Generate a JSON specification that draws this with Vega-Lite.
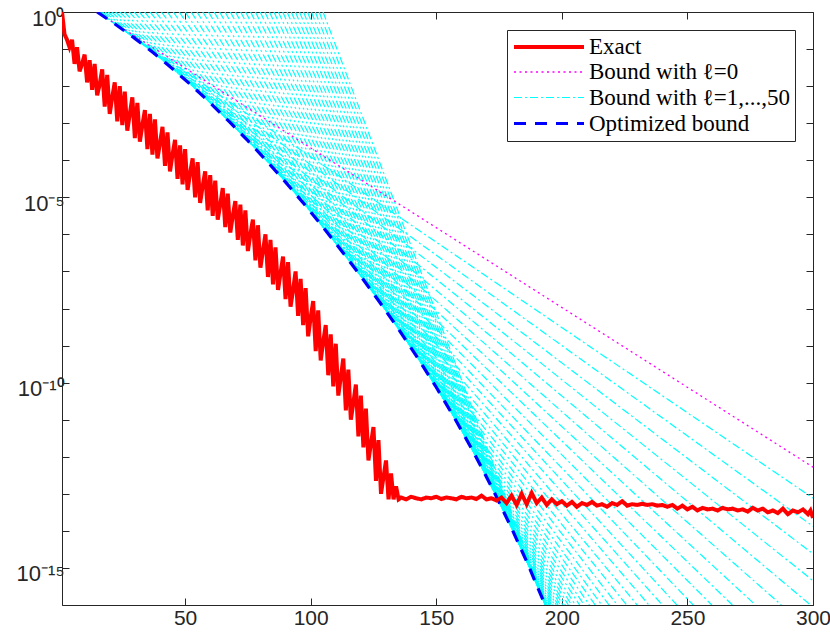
{
  "$schema": "https://vega.github.io/schema/vega-lite/v6.json",
  "width": 751,
  "height": 593,
  "autosize": {"type": "none"},
  "padding": {"left": 62, "top": 12, "right": 17, "bottom": 34},
  "background": "white",
  "config": {
    "view": {"stroke": "#262626", "strokeWidth": 1},
    "axis": {"grid": false, "domain": false, "tickColor": "#262626", "tickSize": -7, "tickWidth": 1, "labelColor": "#262626", "labelFont": "Liberation Sans", "labelFontSize": 21, "title": null, "labelFlush": false, "labelOverlap": false, "labelBound": false},
    "legend": {"orient": "top-right", "offset": 18, "padding": 5, "strokeColor": "#262626", "fillColor": "white", "labelFont": "Liberation Serif", "labelFontSize": 23, "labelColor": "black", "symbolSize": 400, "symbolType": "M-1,0H6", "rowPadding": 1.5, "labelOffset": 53, "labelLimit": 400, "title": null}
  },
  "datasets": {
    "bounds": [
      {"l":1,"x":15.10,"y":1},{"l":1,"x":300,"y":7.67e-14},
      {"l":2,"x":15.50,"y":1},{"l":2,"x":300,"y":1.33e-14},
      {"l":3,"x":16.17,"y":1},{"l":3,"x":300,"y":2.41e-15},
      {"l":4,"x":17.06,"y":1},{"l":4,"x":300,"y":4.52e-16},
      {"l":5,"x":18.16,"y":1},{"l":5,"x":299.0,"y":1e-16},
      {"l":6,"x":19.42,"y":1},{"l":6,"x":287.4,"y":1e-16},
      {"l":7,"x":20.84,"y":1},{"l":7,"x":277.1,"y":1e-16},
      {"l":8,"x":22.37,"y":1},{"l":8,"x":267.9,"y":1e-16},
      {"l":9,"x":24.04,"y":1},{"l":9,"x":259.7,"y":1e-16},
      {"l":10,"x":25.84,"y":1},{"l":10,"x":252.3,"y":1e-16},
      {"l":11,"x":27.76,"y":1},{"l":11,"x":245.8,"y":1e-16},
      {"l":12,"x":29.75,"y":1},{"l":12,"x":240.0,"y":1e-16},
      {"l":13,"x":31.79,"y":1},{"l":13,"x":234.7,"y":1e-16},
      {"l":14,"x":33.90,"y":1},{"l":14,"x":230.0,"y":1e-16},
      {"l":15,"x":36.06,"y":1},{"l":15,"x":225.8,"y":1e-16},
      {"l":16,"x":38.28,"y":1},{"l":16,"x":222.1,"y":1e-16},
      {"l":17,"x":40.58,"y":1},{"l":17,"x":218.8,"y":1e-16},
      {"l":18,"x":42.93,"y":1},{"l":18,"x":215.9,"y":1e-16},
      {"l":19,"x":45.29,"y":1},{"l":19,"x":213.3,"y":1e-16},
      {"l":20,"x":47.67,"y":1},{"l":20,"x":211.0,"y":1e-16},
      {"l":21,"x":50.05,"y":1},{"l":21,"x":208.9,"y":1e-16},
      {"l":22,"x":52.41,"y":1},{"l":22,"x":207.1,"y":1e-16},
      {"l":23,"x":54.73,"y":1},{"l":23,"x":205.4,"y":1e-16},
      {"l":24,"x":57.05,"y":1},{"l":24,"x":203.9,"y":1e-16},
      {"l":25,"x":59.33,"y":1},{"l":25,"x":202.6,"y":1e-16},
      {"l":26,"x":61.56,"y":1},{"l":26,"x":201.4,"y":1e-16},
      {"l":27,"x":63.75,"y":1},{"l":27,"x":200.4,"y":1e-16},
      {"l":28,"x":65.90,"y":1},{"l":28,"x":199.4,"y":1e-16},
      {"l":29,"x":68.01,"y":1},{"l":29,"x":198.5,"y":1e-16},
      {"l":30,"x":70.08,"y":1},{"l":30,"x":197.8,"y":1e-16},
      {"l":31,"x":72.12,"y":1},{"l":31,"x":197.1,"y":1e-16},
      {"l":32,"x":74.12,"y":1},{"l":32,"x":196.5,"y":1e-16},
      {"l":33,"x":76.08,"y":1},{"l":33,"x":195.9,"y":1e-16},
      {"l":34,"x":78.01,"y":1},{"l":34,"x":195.4,"y":1e-16},
      {"l":35,"x":79.90,"y":1},{"l":35,"x":195.0,"y":1e-16},
      {"l":36,"x":81.75,"y":1},{"l":36,"x":194.65,"y":1e-16},
      {"l":37,"x":83.59,"y":1},{"l":37,"x":194.35,"y":1e-16},
      {"l":38,"x":85.39,"y":1},{"l":38,"x":194.1,"y":1e-16},
      {"l":39,"x":87.15,"y":1},{"l":39,"x":193.9,"y":1e-16},
      {"l":40,"x":88.89,"y":1},{"l":40,"x":193.7,"y":1e-16},
      {"l":41,"x":90.60,"y":1},{"l":41,"x":193.57,"y":1e-16},
      {"l":42,"x":92.27,"y":1},{"l":42,"x":193.46,"y":1e-16},
      {"l":43,"x":93.93,"y":1},{"l":43,"x":193.39,"y":1e-16},
      {"l":44,"x":95.56,"y":1},{"l":44,"x":193.36,"y":1e-16},
      {"l":45,"x":97.15,"y":1},{"l":45,"x":193.35,"y":1e-16},
      {"l":46,"x":98.74,"y":1},{"l":46,"x":193.38,"y":1e-16},
      {"l":47,"x":100.31,"y":1},{"l":47,"x":193.44,"y":1e-16},
      {"l":48,"x":101.87,"y":1},{"l":48,"x":193.54,"y":1e-16},
      {"l":49,"x":103.40,"y":1},{"l":49,"x":193.66,"y":1e-16},
      {"l":50,"x":104.93,"y":1},{"l":50,"x":193.82,"y":1e-16}
    ],
    "bound0": [{"x":14.9,"y":1},{"x":300,"y":5.25e-13}],
    "opt": [
      {"x":15,"y":1},{"x":22.5,"y":0.454},{"x":30,"y":0.194},{"x":37.5,"y":0.078},{"x":45,"y":0.0295},{"x":52.5,"y":0.01052},{"x":60,"y":3.53e-3},{"x":67.5,"y":1.119e-3},{"x":75,"y":3.37e-4},{"x":82.5,"y":9.59e-5},{"x":90,"y":2.57e-5},{"x":97.5,"y":6.49e-6},{"x":105,"y":1.54e-6},{"x":112.5,"y":3.46e-7},{"x":120,"y":7.37e-8},{"x":127.5,"y":1.479e-8},{"x":135,"y":2.77e-9},{"x":142.5,"y":4.78e-10},{"x":150,"y":7.5e-11},{"x":157.5,"y":1.047e-11},{"x":165,"y":1.27e-12},{"x":172.5,"y":1.331e-13},{"x":180,"y":1.18e-14},{"x":186.5,"y":1.25e-15},{"x":193,"y":1.14e-16},{"x":193.35,"y":1e-16}
    ],
    "exact": [
      {"x":1,"y":1},{"x":2,"y":0.251},{"x":3,"y":0.178},{"x":4,"y":0.112},{"x":5,"y":0.178},{"x":6,"y":0.0398},{"x":7,"y":0.112},{"x":8,"y":0.0251},{"x":9,"y":0.0398},{"x":10,"y":0.0708},
      {"x":11,"y":0.0126},{"x":12,"y":0.0501},{"x":13,"y":0.00794},{"x":14,"y":0.0398},{"x":15,"y":0.00562},{"x":16,"y":0.0112},{"x":17,"y":0.0282},{"x":18,"y":0.00282},{"x":19,"y":0.02},{"x":20,"y":0.00178},
      {"x":21,"y":0.00501},{"x":22,"y":0.0126},{"x":23,"y":0.00112},{"x":24,"y":0.01},{"x":25,"y":8.91e-4},{"x":26,"y":0.00708},{"x":27,"y":6.31e-4},{"x":28,"y":0.00178},{"x":29,"y":0.00501},{"x":30,"y":3.98e-4},
      {"x":31,"y":3.55e-3},{"x":32,"y":3.16e-4},{"x":33,"y":8.91e-4},{"x":34,"y":2.24e-3},{"x":35,"y":2.0e-4},{"x":36,"y":1.78e-3},{"x":37,"y":1.41e-4},{"x":38,"y":1.26e-3},{"x":39,"y":1.12e-4},{"x":40,"y":2.82e-4},
      {"x":41,"y":7.94e-4},{"x":42,"y":7.08e-5},{"x":43,"y":5.62e-4},{"x":44,"y":5.01e-5},{"x":45,"y":1.41e-4},{"x":46,"y":3.55e-4},{"x":47,"y":3.16e-5},{"x":48,"y":2.51e-4},{"x":49,"y":2.24e-5},{"x":50,"y":2.0e-4},
      {"x":51,"y":1.58e-5},{"x":52,"y":4.47e-5},{"x":53,"y":1.12e-4},{"x":54,"y":1e-5},{"x":55,"y":8.91e-5},{"x":56,"y":7.08e-6},{"x":57,"y":2.0e-5},{"x":58,"y":5.01e-5},{"x":59,"y":4.47e-6},{"x":60,"y":3.98e-5},
      {"x":61,"y":3.16e-6},{"x":62,"y":2.82e-5},{"x":63,"y":2.51e-6},{"x":64,"y":6.31e-6},{"x":65,"y":1.78e-5},{"x":66,"y":1.58e-6},{"x":67,"y":1.26e-5},{"x":68,"y":1.12e-6},{"x":69,"y":3.16e-6},{"x":70,"y":7.94e-6},
      {"x":71,"y":7.08e-7},{"x":72,"y":6.31e-6},{"x":73,"y":5.01e-7},{"x":74,"y":4.47e-6},{"x":75,"y":3.55e-7},{"x":76,"y":1e-6},{"x":77,"y":2.51e-6},{"x":78,"y":2.0e-7},{"x":79,"y":1.78e-6},{"x":80,"y":1.26e-7},
      {"x":81,"y":3.55e-7},{"x":82,"y":1e-6},{"x":83,"y":7.08e-8},{"x":84,"y":7.08e-7},{"x":85,"y":4.47e-8},{"x":86,"y":4.47e-7},{"x":87,"y":3.16e-8},{"x":88,"y":8.91e-8},{"x":89,"y":2.51e-7},{"x":90,"y":1.78e-8},
      {"x":91,"y":1.78e-7},{"x":92,"y":1.12e-8},{"x":93,"y":3.16e-8},{"x":94,"y":1e-7},{"x":95,"y":6.31e-9},{"x":96,"y":6.31e-8},{"x":97,"y":3.55e-9},{"x":98,"y":3.55e-8},{"x":99,"y":1.78e-9},{"x":100,"y":5.62e-9},
      {"x":101,"y":1.58e-8},{"x":102,"y":7.08e-10},{"x":103,"y":8.91e-9},{"x":104,"y":3.98e-10},{"x":105,"y":1.26e-9},{"x":106,"y":3.55e-9},{"x":107,"y":1.58e-10},{"x":108,"y":2.0e-9},{"x":109,"y":7.94e-11},{"x":110,"y":1.12e-9},
      {"x":111,"y":4.47e-11},{"x":112,"y":1.41e-10},{"x":113,"y":4.47e-10},{"x":114,"y":1.78e-11},{"x":115,"y":2.24e-10},{"x":116,"y":1e-11},{"x":117,"y":2.82e-11},{"x":118,"y":8.91e-11},{"x":119,"y":3.55e-12},{"x":120,"y":4.47e-11},
      {"x":121,"y":1.78e-12},{"x":122,"y":2.0e-11},{"x":123,"y":7.94e-13},{"x":124,"y":2.24e-12},{"x":125,"y":6.31e-12},{"x":126,"y":2.24e-13},{"x":127,"y":2.82e-12},{"x":128,"y":1e-13},{"x":129,"y":2.82e-13},{"x":130,"y":7.94e-13},
      {"x":131,"y":7.08e-14},{"x":132,"y":3.55e-13},{"x":133,"y":7.08e-14},{"x":134,"y":1.58e-13},{"x":135,"y":7.08e-14},
      {"x":136,"y":7.94e-14},{"x":138,"y":7.08e-14},{"x":140,"y":8.32e-14},{"x":142,"y":7.59e-14},{"x":144,"y":7.08e-14},{"x":146,"y":7.94e-14},{"x":148,"y":7.59e-14},{"x":150,"y":8.32e-14},{"x":152,"y":7.24e-14},{"x":154,"y":7.94e-14},
      {"x":156,"y":7.59e-14},{"x":158,"y":7.08e-14},{"x":160,"y":8.32e-14},{"x":162,"y":7.59e-14},{"x":164,"y":7.94e-14},{"x":166,"y":7.24e-14},{"x":168,"y":8.91e-14},{"x":170,"y":7.08e-14},{"x":172,"y":7.59e-14},{"x":174,"y":6.61e-14},
      {"x":176,"y":7.94e-14},{"x":178,"y":5.62e-14},{"x":180,"y":8.91e-14},{"x":182,"y":5.01e-14},{"x":184,"y":1.0e-13},{"x":186,"y":5.25e-14},{"x":188,"y":1.05e-13},{"x":190,"y":5.62e-14},{"x":192,"y":7.94e-14},{"x":194,"y":5.01e-14},
      {"x":196,"y":7.08e-14},{"x":198,"y":5.25e-14},{"x":200,"y":6.31e-14},{"x":202,"y":4.79e-14},{"x":204,"y":6.03e-14},{"x":206,"y":4.47e-14},{"x":208,"y":5.62e-14},{"x":210,"y":5.01e-14},{"x":212,"y":6.03e-14},{"x":214,"y":4.79e-14},
      {"x":216,"y":5.25e-14},{"x":218,"y":4.47e-14},{"x":220,"y":5.62e-14},{"x":222,"y":5.01e-14},{"x":224,"y":6.31e-14},{"x":226,"y":4.79e-14},{"x":228,"y":5.25e-14},{"x":230,"y":5.01e-14},{"x":232,"y":5.37e-14},{"x":234,"y":5.01e-14},
      {"x":236,"y":5.25e-14},{"x":238,"y":4.79e-14},{"x":240,"y":5.01e-14},{"x":242,"y":4.47e-14},{"x":244,"y":5.01e-14},{"x":246,"y":3.98e-14},{"x":248,"y":4.79e-14},{"x":250,"y":3.8e-14},{"x":252,"y":4.47e-14},{"x":254,"y":3.55e-14},
      {"x":256,"y":4.17e-14},{"x":258,"y":3.8e-14},{"x":260,"y":3.98e-14},{"x":262,"y":3.55e-14},{"x":264,"y":4.17e-14},{"x":266,"y":3.8e-14},{"x":268,"y":3.98e-14},{"x":270,"y":3.55e-14},{"x":272,"y":3.8e-14},{"x":274,"y":3.31e-14},
      {"x":276,"y":4.17e-14},{"x":278,"y":3.55e-14},{"x":280,"y":3.98e-14},{"x":282,"y":3.16e-14},{"x":284,"y":3.55e-14},{"x":286,"y":3.02e-14},{"x":288,"y":3.98e-14},{"x":290,"y":2.82e-14},{"x":292,"y":3.55e-14},{"x":294,"y":3.16e-14},
      {"x":296,"y":3.8e-14},{"x":298,"y":2.82e-14},{"x":299,"y":3.55e-14},{"x":300,"y":2.24e-14}
    ]
  },
  "layer": [
    {
      "data": {"name": "bounds"},
      "mark": {"type": "line", "clip": true},
      "encoding": {
        "x": {"field": "x", "type": "quantitative", "scale": {"domain": [1, 300], "nice": false, "zero": false}, "axis": {"orient": "bottom", "values": [50, 100, 150, 200, 250, 300], "labelPadding": 9}},
        "y": {"field": "y", "type": "quantitative", "scale": {"type": "log", "domain": [1e-16, 1], "nice": false}, "axis": {"orient": "left", "values": [1, 1e-1, 1e-2, 1e-3, 1e-4, 1e-5, 1e-6, 1e-7, 1e-8, 1e-9, 1e-10, 1e-11, 1e-12, 1e-13, 1e-14, 1e-15, 1e-16], "labelPadding": 5, "labelOffset": 6, "labelFontSize": 22, "labelExpr": "abs(log(datum.value)/LN10) < 0.01 ? '10⁰' : (abs(log(datum.value)/LN10 + 5) < 0.01 ? '10⁻⁵' : (abs(log(datum.value)/LN10 + 10) < 0.01 ? '10⁻¹⁰' : (abs(log(datum.value)/LN10 + 15) < 0.01 ? '10⁻¹⁵' : '')))"}},
        "detail": {"field": "l", "type": "nominal"},
        "color": {"datum": "Bound with ℓ=1,...,50", "type": "nominal", "scale": {"type": "ordinal", "domain": ["Exact", "Bound with ℓ=0", "Bound with ℓ=1,...,50", "Optimized bound"], "range": ["#ff0000", "#ff00ff", "#00ffff", "#0000ff"]}},
        "strokeDash": {"datum": "Bound with ℓ=1,...,50", "type": "nominal", "scale": {"type": "ordinal", "domain": ["Exact", "Bound with ℓ=0", "Bound with ℓ=1,...,50", "Optimized bound"], "range": [[1, 0], [2, 3.5], [8, 3, 2, 3], [12, 9]]}},
        "strokeWidth": {"datum": "Bound with ℓ=1,...,50", "type": "nominal", "scale": {"type": "ordinal", "domain": ["Exact", "Bound with ℓ=0", "Bound with ℓ=1,...,50", "Optimized bound"], "range": [4, 1.3, 1.2, 3.2]}}
      }
    },
    {
      "data": {"name": "bound0"},
      "mark": {"type": "line", "clip": true},
      "encoding": {
        "x": {"field": "x", "type": "quantitative", "scale": {"domain": [1, 300], "nice": false, "zero": false}, "axis": {"orient": "top", "values": [50, 100, 150, 200, 250, 300], "labels": false}},
        "y": {"field": "y", "type": "quantitative", "scale": {"type": "log", "domain": [1e-16, 1], "nice": false}, "axis": {"orient": "right", "values": [1, 1e-1, 1e-2, 1e-3, 1e-4, 1e-5, 1e-6, 1e-7, 1e-8, 1e-9, 1e-10, 1e-11, 1e-12, 1e-13, 1e-14, 1e-15, 1e-16], "labels": false}},
        "color": {"datum": "Bound with ℓ=0", "type": "nominal", "scale": {"type": "ordinal", "domain": ["Exact", "Bound with ℓ=0", "Bound with ℓ=1,...,50", "Optimized bound"], "range": ["#ff0000", "#ff00ff", "#00ffff", "#0000ff"]}},
        "strokeDash": {"datum": "Bound with ℓ=0", "type": "nominal", "scale": {"type": "ordinal", "domain": ["Exact", "Bound with ℓ=0", "Bound with ℓ=1,...,50", "Optimized bound"], "range": [[1, 0], [2, 3.5], [8, 3, 2, 3], [12, 9]]}},
        "strokeWidth": {"datum": "Bound with ℓ=0", "type": "nominal", "scale": {"type": "ordinal", "domain": ["Exact", "Bound with ℓ=0", "Bound with ℓ=1,...,50", "Optimized bound"], "range": [4, 1.3, 1.2, 3.2]}}
      }
    },
    {
      "data": {"name": "opt"},
      "mark": {"type": "line", "clip": true},
      "encoding": {
        "x": {"field": "x", "type": "quantitative", "scale": {"domain": [1, 300], "nice": false, "zero": false}, "axis": null},
        "y": {"field": "y", "type": "quantitative", "scale": {"type": "log", "domain": [1e-16, 1], "nice": false}, "axis": null},
        "color": {"datum": "Optimized bound", "type": "nominal", "scale": {"type": "ordinal", "domain": ["Exact", "Bound with ℓ=0", "Bound with ℓ=1,...,50", "Optimized bound"], "range": ["#ff0000", "#ff00ff", "#00ffff", "#0000ff"]}},
        "strokeDash": {"datum": "Optimized bound", "type": "nominal", "scale": {"type": "ordinal", "domain": ["Exact", "Bound with ℓ=0", "Bound with ℓ=1,...,50", "Optimized bound"], "range": [[1, 0], [2, 3.5], [8, 3, 2, 3], [12, 9]]}},
        "strokeWidth": {"datum": "Optimized bound", "type": "nominal", "scale": {"type": "ordinal", "domain": ["Exact", "Bound with ℓ=0", "Bound with ℓ=1,...,50", "Optimized bound"], "range": [4, 1.3, 1.2, 3.2]}}
      }
    },
    {
      "data": {"name": "exact"},
      "mark": {"type": "line", "clip": true, "strokeJoin": "miter"},
      "encoding": {
        "x": {"field": "x", "type": "quantitative", "scale": {"domain": [1, 300], "nice": false, "zero": false}, "axis": null},
        "y": {"field": "y", "type": "quantitative", "scale": {"type": "log", "domain": [1e-16, 1], "nice": false}, "axis": null},
        "color": {"datum": "Exact", "type": "nominal", "scale": {"type": "ordinal", "domain": ["Exact", "Bound with ℓ=0", "Bound with ℓ=1,...,50", "Optimized bound"], "range": ["#ff0000", "#ff00ff", "#00ffff", "#0000ff"]}},
        "strokeDash": {"datum": "Exact", "type": "nominal", "scale": {"type": "ordinal", "domain": ["Exact", "Bound with ℓ=0", "Bound with ℓ=1,...,50", "Optimized bound"], "range": [[1, 0], [2, 3.5], [8, 3, 2, 3], [12, 9]]}},
        "strokeWidth": {"datum": "Exact", "type": "nominal", "scale": {"type": "ordinal", "domain": ["Exact", "Bound with ℓ=0", "Bound with ℓ=1,...,50", "Optimized bound"], "range": [4, 1.3, 1.2, 3.2]}}
      }
    }
  ],
  "resolve": {"axis": {"x": "independent", "y": "independent"}}
}
